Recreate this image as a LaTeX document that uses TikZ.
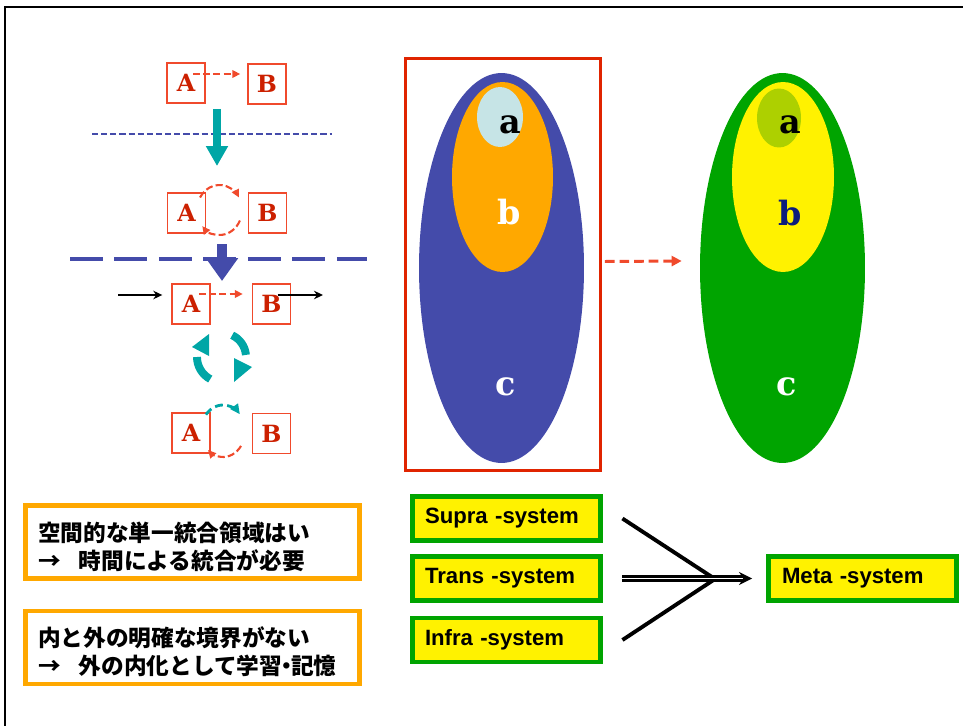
\documentclass[tikz,border=0pt]{standalone}
\usepackage{fontspec}
\setmainfont{Liberation Sans}
\newfontfamily\jpfont{Noto Sans CJK JP}
\newfontfamily\slabfont{DejaVu Serif}
\usetikzlibrary{arrows.meta,positioning,calc,shapes.geometric}
\definecolor{fred}{HTML}{F04A2C}
\definecolor{fredtxt}{HTML}{CC2000}
\definecolor{fframe}{HTML}{E02400}
\definecolor{fblue}{HTML}{444BAA}
\definecolor{fteal}{HTML}{00A6A6}
\definecolor{forange}{HTML}{FFA800}
\definecolor{fcyan}{HTML}{C6E4E6}
\definecolor{fgreen}{HTML}{00A400}
\definecolor{folive}{HTML}{ADD000}
\definecolor{fnavy}{HTML}{0C1C7C}

\begin{document}
\begin{tikzpicture}[x=0.02cm,y=-0.02cm,
  abbox/.style={draw=fred,line width=0.8pt,minimum width=0.76cm,minimum height=0.8cm,inner sep=0pt,text=fredtxt,font=\slabfont\bfseries\fontsize{13.5}{13.5}\selectfont},
  reddash/.style={fred,line width=1.2pt,dash pattern=on 4pt off 1.8pt,-{Triangle[length=0.16cm,width=0.15cm]}},
  tealdash/.style={fteal,line width=1.6pt,dash pattern=on 4.5pt off 2.5pt,-{Triangle[length=0.2cm,width=0.18cm]}},
  blackarrow/.style={line width=1.4pt,-{Stealth[length=0.18cm,width=0.17cm]}},
  blob/.style={ellipse,inner sep=0pt},
  lbl/.style={font=\slabfont\bfseries\fontsize{19}{19}\selectfont,inner sep=0pt},
  jpbox/.style={draw=forange,line width=2.8pt,minimum width=6.68cm,minimum height=1.46cm,text width=6.18cm,inner xsep=0.25cm,align=left,font=\jpfont\bfseries\fontsize{12.9}{15.9}\selectfont},
  sysbox/.style={draw=fgreen,fill=yellow,line width=2.8pt,minimum width=3.76cm,minimum height=0.88cm,text width=3.26cm,inner xsep=0.25cm,align=left,font=\bfseries\fontsize{12.6}{15}\selectfont}]
\useasboundingbox (0,0) rectangle (963,726);
\draw[line width=1.1pt] (5,726) -- (5,7) -- (963,7);

\node[abbox] (a1) at (186,83) {A};
\node[abbox] (b1) at (267,84) {B};
\draw[reddash] ([shift={(7,-9)}]a1.center) -- ([shift={(-7,-10)}]b1.west);
\draw[fblue,line width=1.2pt,dash pattern=on 3.5pt off 1.7pt] (92,134) -- (332,134);
\coordinate (t1) at (217,109);
\coordinate (t2) at (217,166);
\draw[fteal,line width=5pt,-{Triangle[length=0.4cm,width=0.42cm]}] (t1) -- (t2);

\node[abbox] (a2) at (186.5,213) {A};
\node[abbox] (b2) at (267.5,213) {B};
\coordinate (o2) at (219.5,210);
\draw[reddash] ([shift={(-150:22.5 and 25)}]o2) arc[start angle=-150,end angle=-30,x radius=22.5,y radius=25];
\draw[reddash] ([shift={(25:22.5 and 25)}]o2) arc[start angle=25,end angle=140,x radius=22.5,y radius=25];

\draw[fblue,line width=2.8pt,dash pattern=on 0.66cm off 0.23cm] (70,259) -- (367,259);
\coordinate (t3) at (222,244);
\coordinate (t4) at (222,281);
\draw[fblue,line width=5.5pt,-{Triangle[length=0.46cm,width=0.62cm]}] (t3) -- (t4);

\node[abbox] (a3) at (191,304) {A};
\node[abbox] (b3) at (271.5,304) {B};
\coordinate (in3) at (118,295);
\coordinate (out3) at (323,295);
\draw[blackarrow] (in3) -- ([shift={(-9,-9)}]a3.west);
\draw[blackarrow] ([shift={(6,-9)}]b3.center) -- (out3);
\draw[reddash] ([shift={(8,-10)}]a3.center) -- ([shift={(-9,-10)}]b3.west);

\coordinate (o3) at (222,357);
\draw[fteal,line width=4.5pt] ([shift={(-65:24)}]o3) arc[start angle=-65,end angle=-5,radius=24];
\draw[fteal,line width=4.5pt] ([shift={(118:25)}]o3) arc[start angle=118,end angle=180,radius=25];
\fill[fteal] (234,358) -- (252,367) -- (234,382) -- cycle;
\fill[fteal] (192,347) -- (209,334) -- (209,356) -- cycle;

\node[abbox] (a4) at (191,433) {A};
\node[abbox] (b4) at (271.5,433.5) {B};
\coordinate (o4) at (223,431);
\draw[tealdash] ([shift={(-141:22 and 26)}]o4) arc[start angle=-141,end angle=-40,x radius=22,y radius=26];
\draw[reddash] ([shift={(35:22 and 26)}]o4) arc[start angle=35,end angle=133,x radius=22,y radius=26];

\node[draw=fframe,line width=1.7pt,minimum width=3.9cm,minimum height=8.24cm,inner sep=0pt] (box) at (503,264.5) {};
\node[blob,fill=fblue,minimum width=3.3cm,minimum height=7.8cm] (ec) at (501.5,268) {};
\node[blob,fill=forange,minimum width=2.02cm,minimum height=3.8cm] (eb) at (502.5,177) {};
\node[blob,fill=fcyan,minimum width=0.92cm,minimum height=1.2cm] (ea) at (500,117) {};
\node[lbl] (la) at (510,125) {a};
\node[lbl,text=white] (lb) at (509,212) {b};
\node[lbl,text=white] (lc) at (506,387) {c};

\node[blob,fill=fgreen,minimum width=3.3cm,minimum height=7.8cm] (gc) at (782.5,268) {};
\node[blob,fill=yellow,minimum width=2.04cm,minimum height=3.8cm] (gb) at (783,177) {};
\node[blob,fill=folive,minimum width=0.88cm,minimum height=1.18cm] (ga) at (779,118) {};
\node[lbl] (ma) at (790,125) {a};
\node[lbl,text=fnavy] (mb) at (790,213) {b};
\node[lbl,text=white] (mc) at (787,387) {c};

\draw[fred,line width=1.7pt,dash pattern=on 5.5pt off 2.8pt,-{Triangle[length=0.2cm,width=0.2cm]}] ([shift={(3,-3)}]box.east) -- ([shift={(-18,-7)}]gc.west);

\node[jpbox] (n1) at (192.5,542) {\rule{0pt}{1.25em}空間的な単一統合領域はい\\\mbox{→\hspace{0.8em}時間による統合が必要}};
\node[jpbox] (n2) at (192.5,647.5) {\rule{0pt}{1.25em}内と外の明確な境界がない\\\mbox{→\hspace{0.8em}外の内化として学習\kern-0.3em・\kern-0.3em記憶}};

\node[sysbox] (sup) at (506.5,518.5) {Supra -system};
\node[sysbox] (tra) at (506.5,578.5) {Trans -system};
\node[sysbox] (inf) at (506.5,640) {Infra -system};
\node[sysbox,inner xsep=0.27cm,text width=3.22cm] (met) at (862.5,578.5) {Meta -system};
\coordinate (conv) at (715,579);
\draw[line width=2.2pt] ([xshift=0.39cm]sup.east) -- (conv);
\draw[line width=2.2pt] ([xshift=0.39cm]inf.east) -- (conv);
\draw[double,double distance=0.6pt,line width=1.8pt,-{Stealth[length=0.26cm,width=0.26cm]}] ([xshift=0.39cm]tra.east) -- ([xshift=-0.28cm]met.west);
\end{tikzpicture}
\end{document}
